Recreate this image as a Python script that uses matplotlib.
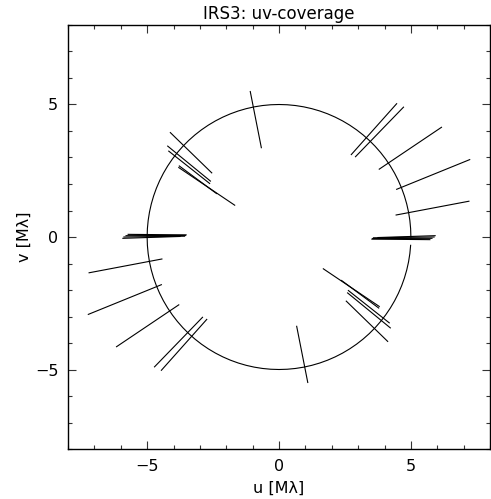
import numpy as np
import matplotlib
matplotlib.use("Agg")
import matplotlib.pyplot as plt
from matplotlib.ticker import MultipleLocator

# uv tracks (one of each conjugate pair), start/end points in M-lambda
u_start = [-1.09, -4.12, -4.22, -4.18, -3.80, -3.78, 2.74, 2.90, 3.80, 4.46, 4.44,
           -5.72, -5.80, -5.88, -5.92]
v_start = [5.49, 3.94, 3.43, 3.24, 2.62, 2.68, 3.11, 3.03, 2.56, 1.80, 0.83,
           0.10, 0.05, 0.00, -0.05]
u_end = [-0.67, -2.55, -2.60, -2.63, -1.68, -2.37, 4.46, 4.72, 6.16, 7.23, 7.20,
         -3.52, -3.55, -3.58, -3.75]
v_end = [3.37, 2.42, 2.11, 2.02, 1.20, 1.64, 5.03, 4.90, 4.14, 2.92, 1.35,
         0.08, 0.06, 0.03, 0.02]
radius = 5.0

fig = plt.figure(figsize=(4.91, 4.99), dpi=100)
ax = fig.add_axes([0.1385, 0.1002, 0.8595, 0.8497])

for us, vs, ue, ve in zip(u_start, v_start, u_end, v_end):
    ax.plot([us, ue], [vs, ve], color="black", lw=0.8)
    ax.plot([-us, -ue], [-vs, -ve], color="black", lw=0.8)

th = np.linspace(0, 2 * np.pi, 100, endpoint=False)
ax.plot(radius * np.cos(th), radius * np.sin(th), color="black", lw=0.8)

ax.set_xlim(-8, 8); ax.set_ylim(-8, 8)
for a in (ax.xaxis, ax.yaxis):
    a.set_major_locator(MultipleLocator(5)); a.set_minor_locator(MultipleLocator(1))
ax.tick_params(which="both", direction="in", top=True, right=True, labelsize=11.5, pad=7,
               color="#333333")
ax.tick_params(which="major", length=6, width=0.8)
ax.tick_params(which="minor", length=3, width=0.8)
for s in ax.spines.values(): s.set_linewidth(1.0)
ax.set_xlabel("u [M\u03bb]", fontsize=11.5)
ax.set_ylabel("v [M\u03bb]", fontsize=11.5)
ax.xaxis.set_label_coords(0.5, -0.075)
ax.yaxis.set_label_coords(-0.085, 0.5)
ax.set_title("IRS3: uv-coverage", fontsize=12, pad=4)

fig.savefig("out.png", dpi=100)
